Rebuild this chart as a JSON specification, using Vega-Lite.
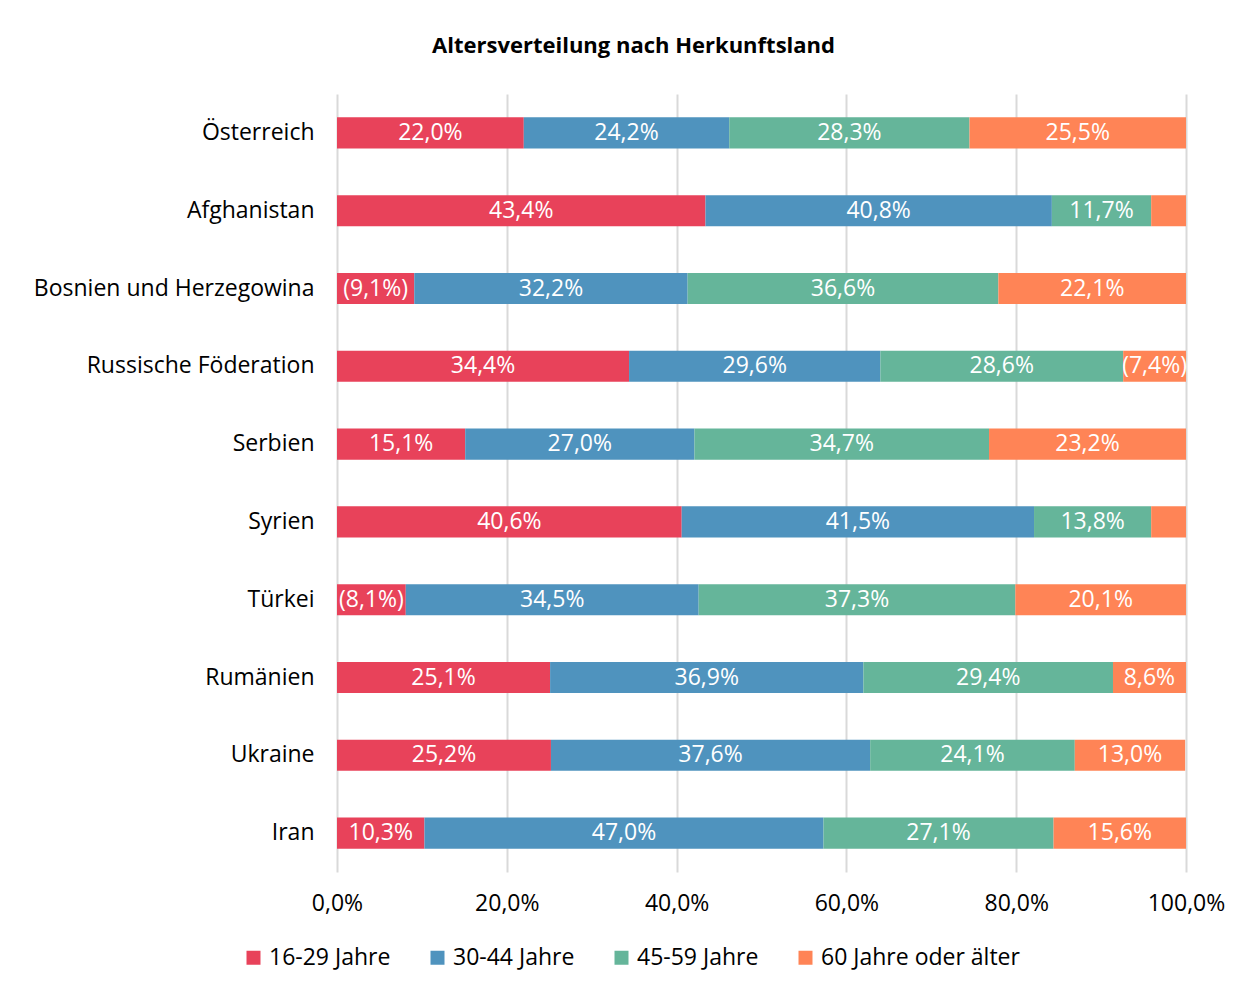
{
  "$schema": "https://vega.github.io/schema/vega-lite/v6.json",
  "width": 849,
  "height": 778,
  "autosize": "none",
  "padding": {"left": 337, "top": 94, "right": 58, "bottom": 112},
  "background": "white",
  "config": {
    "font": "Open Sans",
    "view": {"stroke": null},
    "axis": {"labelFont": "Open Sans", "labelColor": "#000000"}
  },
  "title": {
    "text": "Altersverteilung nach Herkunftsland",
    "font": "Open Sans",
    "fontSize": 22,
    "fontWeight": "bold",
    "color": "#000000",
    "anchor": "middle",
    "dx": -128,
    "offset": 26,
    "baseline": "middle"
  },
  "data": {
    "values": [
      {"land": "Österreich", "gruppe": "16-29 Jahre", "ord": 1, "wert": 22.0, "label": "22,0%"},
      {"land": "Österreich", "gruppe": "30-44 Jahre", "ord": 2, "wert": 24.2, "label": "24,2%"},
      {"land": "Österreich", "gruppe": "45-59 Jahre", "ord": 3, "wert": 28.3, "label": "28,3%"},
      {"land": "Österreich", "gruppe": "60 Jahre oder älter", "ord": 4, "wert": 25.5, "label": "25,5%"},
      {"land": "Afghanistan", "gruppe": "16-29 Jahre", "ord": 1, "wert": 43.4, "label": "43,4%"},
      {"land": "Afghanistan", "gruppe": "30-44 Jahre", "ord": 2, "wert": 40.8, "label": "40,8%"},
      {"land": "Afghanistan", "gruppe": "45-59 Jahre", "ord": 3, "wert": 11.7, "label": "11,7%"},
      {"land": "Afghanistan", "gruppe": "60 Jahre oder älter", "ord": 4, "wert": 4.1, "label": ""},
      {"land": "Bosnien und Herzegowina", "gruppe": "16-29 Jahre", "ord": 1, "wert": 9.1, "label": "(9,1%)"},
      {"land": "Bosnien und Herzegowina", "gruppe": "30-44 Jahre", "ord": 2, "wert": 32.2, "label": "32,2%"},
      {"land": "Bosnien und Herzegowina", "gruppe": "45-59 Jahre", "ord": 3, "wert": 36.6, "label": "36,6%"},
      {"land": "Bosnien und Herzegowina", "gruppe": "60 Jahre oder älter", "ord": 4, "wert": 22.1, "label": "22,1%"},
      {"land": "Russische Föderation", "gruppe": "16-29 Jahre", "ord": 1, "wert": 34.4, "label": "34,4%"},
      {"land": "Russische Föderation", "gruppe": "30-44 Jahre", "ord": 2, "wert": 29.6, "label": "29,6%"},
      {"land": "Russische Föderation", "gruppe": "45-59 Jahre", "ord": 3, "wert": 28.6, "label": "28,6%"},
      {"land": "Russische Föderation", "gruppe": "60 Jahre oder älter", "ord": 4, "wert": 7.4, "label": "(7,4%)"},
      {"land": "Serbien", "gruppe": "16-29 Jahre", "ord": 1, "wert": 15.1, "label": "15,1%"},
      {"land": "Serbien", "gruppe": "30-44 Jahre", "ord": 2, "wert": 27.0, "label": "27,0%"},
      {"land": "Serbien", "gruppe": "45-59 Jahre", "ord": 3, "wert": 34.7, "label": "34,7%"},
      {"land": "Serbien", "gruppe": "60 Jahre oder älter", "ord": 4, "wert": 23.2, "label": "23,2%"},
      {"land": "Syrien", "gruppe": "16-29 Jahre", "ord": 1, "wert": 40.6, "label": "40,6%"},
      {"land": "Syrien", "gruppe": "30-44 Jahre", "ord": 2, "wert": 41.5, "label": "41,5%"},
      {"land": "Syrien", "gruppe": "45-59 Jahre", "ord": 3, "wert": 13.8, "label": "13,8%"},
      {"land": "Syrien", "gruppe": "60 Jahre oder älter", "ord": 4, "wert": 4.1, "label": ""},
      {"land": "Türkei", "gruppe": "16-29 Jahre", "ord": 1, "wert": 8.1, "label": "(8,1%)"},
      {"land": "Türkei", "gruppe": "30-44 Jahre", "ord": 2, "wert": 34.5, "label": "34,5%"},
      {"land": "Türkei", "gruppe": "45-59 Jahre", "ord": 3, "wert": 37.3, "label": "37,3%"},
      {"land": "Türkei", "gruppe": "60 Jahre oder älter", "ord": 4, "wert": 20.1, "label": "20,1%"},
      {"land": "Rumänien", "gruppe": "16-29 Jahre", "ord": 1, "wert": 25.1, "label": "25,1%"},
      {"land": "Rumänien", "gruppe": "30-44 Jahre", "ord": 2, "wert": 36.9, "label": "36,9%"},
      {"land": "Rumänien", "gruppe": "45-59 Jahre", "ord": 3, "wert": 29.4, "label": "29,4%"},
      {"land": "Rumänien", "gruppe": "60 Jahre oder älter", "ord": 4, "wert": 8.6, "label": "8,6%"},
      {"land": "Ukraine", "gruppe": "16-29 Jahre", "ord": 1, "wert": 25.2, "label": "25,2%"},
      {"land": "Ukraine", "gruppe": "30-44 Jahre", "ord": 2, "wert": 37.6, "label": "37,6%"},
      {"land": "Ukraine", "gruppe": "45-59 Jahre", "ord": 3, "wert": 24.1, "label": "24,1%"},
      {"land": "Ukraine", "gruppe": "60 Jahre oder älter", "ord": 4, "wert": 13.0, "label": "13,0%"},
      {"land": "Iran", "gruppe": "16-29 Jahre", "ord": 1, "wert": 10.3, "label": "10,3%"},
      {"land": "Iran", "gruppe": "30-44 Jahre", "ord": 2, "wert": 47.0, "label": "47,0%"},
      {"land": "Iran", "gruppe": "45-59 Jahre", "ord": 3, "wert": 27.1, "label": "27,1%"},
      {"land": "Iran", "gruppe": "60 Jahre oder älter", "ord": 4, "wert": 15.6, "label": "15,6%"}
    ]
  },
  "transform": [
    {"stack": "wert", "groupby": ["land"], "sort": [{"field": "ord", "order": "ascending"}], "as": ["x0", "x1"]}
  ],
  "encoding": {
    "y": {
      "field": "land",
      "type": "nominal",
      "sort": ["Österreich", "Afghanistan", "Bosnien und Herzegowina", "Russische Föderation", "Serbien", "Syrien", "Türkei", "Rumänien", "Ukraine", "Iran"],
      "scale": {"paddingInner": 0.6, "paddingOuter": 0.3},
      "axis": {"title": null, "domain": false, "ticks": false, "grid": false, "labelFontSize": 23, "labelPadding": 23, "labelColor": "#000000", "labelLimit": 0}
    }
  },
  "layer": [
    {
      "mark": {"type": "bar"},
      "encoding": {
        "x": {
          "field": "x0",
          "type": "quantitative",
          "scale": {"domain": [0, 100], "nice": false},
          "axis": {
            "title": null,
            "values": [0, 20, 40, 60, 80, 100],
            "labelExpr": "replace(format(datum.value, '.1f'), '.', ',') + '%'",
            "domain": false,
            "ticks": false,
            "grid": true,
            "gridColor": "#d9d9d9",
            "gridWidth": 2,
            "labelFontSize": 23,
            "labelPadding": 20,
            "labelColor": "#000000",
            "labelFlush": false
          }
        },
        "x2": {"field": "x1"},
        "color": {
          "field": "gruppe",
          "type": "nominal",
          "sort": ["16-29 Jahre", "30-44 Jahre", "45-59 Jahre", "60 Jahre oder älter"],
          "scale": {
            "domain": ["16-29 Jahre", "30-44 Jahre", "45-59 Jahre", "60 Jahre oder älter"],
            "range": ["#E8425A", "#4F93BE", "#65B59A", "#FF8456"]
          },
          "legend": {
            "title": null,
            "orient": "none",
            "direction": "horizontal",
            "legendX": -95,
            "legendY": 852,
            "symbolType": "square",
            "symbolSize": 196,
            "symbolStrokeWidth": 0,
            "labelFontSize": 23,
            "labelFont": "Open Sans",
            "labelColor": "#000000",
            "labelOffset": 4,
            "labelLimit": 0,
            "columnPadding": 35
          }
        }
      }
    },
    {
      "transform": [
        {"fold": ["x0", "x1"], "as": ["kante", "pos"]},
        {"aggregate": [{"op": "mean", "field": "pos", "as": "mitte"}], "groupby": ["land", "gruppe", "label"]}
      ],
      "mark": {"type": "text", "color": "white", "fontSize": 23, "font": "Open Sans", "align": "center", "baseline": "middle"},
      "encoding": {
        "x": {"field": "mitte", "type": "quantitative"},
        "text": {"field": "label", "type": "nominal"}
      }
    }
  ]
}
